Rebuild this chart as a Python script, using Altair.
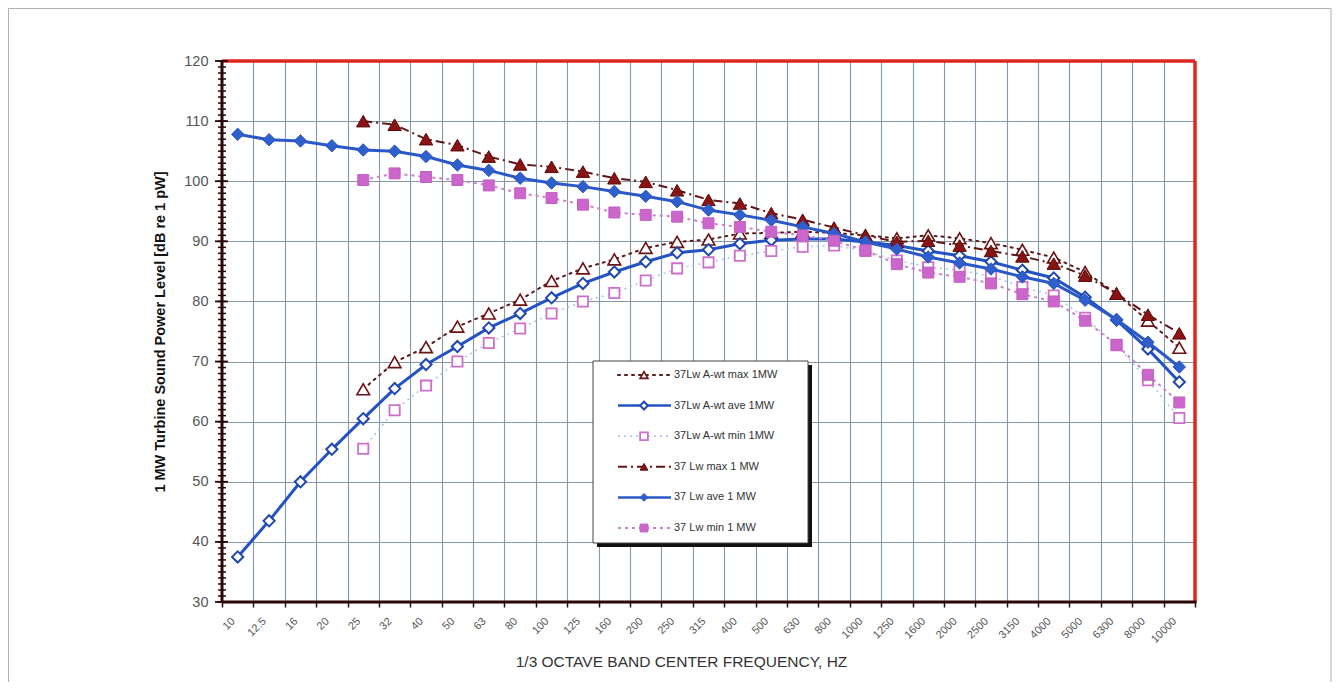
import altair as alt
import pandas as pd

categories = ["10", "12.5", "16", "20", "25", "32", "40", "50", "63", "80", "100",
              "125", "160", "200", "250", "315", "400", "500", "630", "800", "1000",
              "1250", "1600", "2000", "2500", "3150", "4000", "5000", "6300", "8000", "10000"]

awt_max = [None, None, None, None, 65.4, 69.9, 72.4, 75.8, 78.0, 80.3, 83.4,
           85.5, 87.0, 88.9, 89.9, 90.3, 91.3, 91.4, 91.6, 91.4, 91.0,
           90.5, 91.0, 90.5, 89.7, 88.6, 87.3, 84.9, 81.3, 76.8, 72.3]
awt_ave = [37.5, 43.5, 50.0, 55.4, 60.5, 65.5, 69.5, 72.5, 75.6, 78.0, 80.6,
           83.0, 84.9, 86.6, 88.1, 88.6, 89.6, 90.2, 90.4, 90.4, 89.9,
           89.3, 88.4, 87.6, 86.6, 85.2, 83.9, 80.7, 76.9, 72.1, 66.6]
awt_min = [None, None, None, None, 55.5, 61.9, 66.0, 70.0, 73.1, 75.5, 78.0,
           80.0, 81.4, 83.5, 85.5, 86.5, 87.6, 88.4, 89.1, 89.3, 88.4,
           86.8, 85.7, 85.2, 84.2, 82.4, 81.0, 77.3, 72.7, 66.9, 60.6]
lw_max = [None, None, None, None, 110.0, 109.4, 107.0, 106.0, 104.1, 102.8, 102.4,
          101.6, 100.5, 99.9, 98.5, 96.9, 96.3, 94.7, 93.6, 92.3, 91.0,
          89.9, 90.1, 89.3, 88.4, 87.5, 86.3, 84.3, 81.3, 77.8, 74.7]
lw_ave = [107.8, 106.9, 106.7, 105.9, 105.2, 105.0, 104.1, 102.7, 101.8, 100.5, 99.7,
          99.1, 98.3, 97.5, 96.6, 95.2, 94.4, 93.5, 92.4, 91.3, 89.9,
          88.7, 87.4, 86.4, 85.4, 84.1, 83.0, 80.2, 77.0, 73.2, 69.1]
lw_min = [None, None, None, None, 100.2, 101.3, 100.7, 100.2, 99.3, 98.0, 97.2,
          96.1, 94.8, 94.4, 94.1, 93.0, 92.4, 91.6, 91.0, 90.1, 88.5,
          86.2, 84.8, 84.1, 83.0, 81.2, 80.0, 76.8, 72.8, 67.8, 63.2]

series_names = ["37Lw A-wt max  1MW", "37Lw A-wt ave  1MW", "37Lw A-wt min  1MW",
                "37 Lw max 1 MW", "37 Lw ave 1 MW", "37 Lw min 1 MW"]

y_major = list(range(30, 121, 10))
y_minor = list(range(30, 121, 1))

W, H = 973, 541
FONT = "Liberation Sans"
DARK = "#2a0606"
GRID = "#8398a8"
RED = "#e0261e"

x_axis = alt.Axis(
    tickBand="extent", grid=True, gridColor=GRID, gridWidth=1.1,
    domain=False, ticks=True, tickSize=5, tickColor=DARK, tickWidth=1.5,
    labelAngle=-45, labelAlign="right", labelBaseline="top",
    labelFontSize=11, labelColor="#555555", labelPadding=8, labelOffset=-9,
    labelFont=FONT,
    title="1/3 OCTAVE BAND CENTER FREQUENCY, HZ", titleFont=FONT,
    titleFontSize=15.5, titleFontWeight="normal", titleColor="#333333",
    titleX=459, titleY=52, titleBaseline="top", titleAnchor="middle",
)
y_axis = alt.Axis(
    values=y_major, grid=True, gridColor=GRID, gridWidth=1.1,
    domain=False, ticks=False, labelFontSize=14.5, labelColor="#555555",
    labelPadding=14, labelFont=FONT,
    title="1 MW Turbine Sound Power Level [dB re 1 pW]", titleFont=FONT,
    titleFontSize=14.5, titleFontWeight="bold", titleColor="#111111",
    titleX=-62, titleBaseline="middle",
)
x_scale = alt.Scale(type="band", domain=categories, paddingInner=0, paddingOuter=0)
y_scale = alt.Scale(domain=[30, 120], nice=False, zero=False)


def X():
    return alt.X("freq:N", sort=categories, scale=x_scale, axis=x_axis, bandPosition=0.5)


def Y():
    return alt.Y("level:Q", scale=y_scale, axis=y_axis)


def frame(vals):
    return pd.DataFrame({"freq": categories, "level": vals}).dropna()


styles = [
    dict(vals=awt_max, line=dict(color="#5a1a1a", strokeWidth=2, strokeDash=[2, 5], strokeCap="round"),
         pt=dict(shape="triangle-up", fill="white", stroke="#6b1212", strokeWidth=1.6, size=160)),
    dict(vals=awt_ave, line=dict(color="#2453c4", strokeWidth=3),
         pt=dict(shape="diamond", fill="white", stroke="#1f47ad", strokeWidth=2, size=125)),
    dict(vals=awt_min, line=dict(color="#a9c2e6", strokeWidth=1.5, strokeDash=[2, 4]),
         pt=dict(shape="square", fill="white", stroke="#cc70cc", strokeWidth=1.8, size=105)),
    dict(vals=lw_max, line=dict(color="#5e1616", strokeWidth=2, strokeDash=[9, 4, 2, 4]),
         pt=dict(shape="triangle-up", fill="#8a1414", stroke="#5a0a0a", strokeWidth=1, size=180)),
    dict(vals=lw_ave, line=dict(color="#2a58c8", strokeWidth=3),
         pt=dict(shape="diamond", fill="#2f5fcc", stroke="#2a55c0", strokeWidth=1, size=155)),
    dict(vals=lw_min, line=dict(color="#cc7fd0", strokeWidth=2, strokeDash=[3, 4]),
         pt=dict(shape="square", fill="#cc66cc", stroke="#c060c0", strokeWidth=1, size=120)),
]

one = pd.DataFrame({"a": [0]})
layers = []

# base layer establishing axes
layers.append(alt.Chart(frame(lw_ave)).mark_point(opacity=0).encode(x=X(), y=Y()))

for st in styles:
    df = frame(st["vals"])
    layers.append(alt.Chart(df).mark_line(**st["line"]).encode(x=X(), y=Y()))
    layers.append(alt.Chart(df).mark_point(filled=True, opacity=1, **st["pt"]).encode(x=X(), y=Y()))

# plot border: red top/right, dark left/bottom with crossing ticks
layers.append(alt.Chart(one).mark_rule(color=RED, strokeWidth=3.5).encode(
    x=alt.value(0), x2=alt.value(W), y=alt.value(0)))
layers.append(alt.Chart(one).mark_rule(color=RED, strokeWidth=3.5).encode(
    x=alt.value(W), y=alt.value(0), y2=alt.value(H)))
layers.append(alt.Chart(one).mark_rule(color=DARK, strokeWidth=3).encode(
    x=alt.value(0), y=alt.value(0), y2=alt.value(H)))
layers.append(alt.Chart(one).mark_rule(color=DARK, strokeWidth=3).encode(
    x=alt.value(0), x2=alt.value(W + 1.5), y=alt.value(H)))
layers.append(alt.Chart(pd.DataFrame({"level": y_minor})).mark_rule(color=DARK, strokeWidth=1.5).encode(
    y=Y(), x=alt.value(-4), x2=alt.value(4)))
layers.append(alt.Chart(pd.DataFrame({"level": y_major})).mark_rule(color=DARK, strokeWidth=1.8).encode(
    y=Y(), x=alt.value(-7), x2=alt.value(6)))

# legend box
lx0, lx1, ly0, ly1 = 371, 586, 300, 482
layers.append(alt.Chart(one).mark_rect(fill="#111111").encode(
    x=alt.value(lx0 + 4), x2=alt.value(lx1 + 4), y=alt.value(ly0 + 4), y2=alt.value(ly1 + 4)))
layers.append(alt.Chart(one).mark_rect(fill="white", stroke="#444444", strokeWidth=1).encode(
    x=alt.value(lx0), x2=alt.value(lx1), y=alt.value(ly0), y2=alt.value(ly1)))

for i, (name, st) in enumerate(zip(series_names, styles)):
    ry = 314 + i * 30.6
    ln = dict(st["line"])
    ln["strokeWidth"] = min(ln["strokeWidth"], 2.5)
    layers.append(alt.Chart(one).mark_rule(**ln).encode(
        x=alt.value(396), x2=alt.value(449), y=alt.value(ry)))
    pt = dict(st["pt"])
    pt["size"] = 60
    layers.append(alt.Chart(one).mark_point(filled=True, opacity=1, **pt).encode(
        x=alt.value(422), y=alt.value(ry)))
    layers.append(alt.Chart(pd.DataFrame({"label": [name]})).mark_text(
        align="left", baseline="middle", font=FONT, fontSize=11, color="#333333").encode(
        x=alt.value(452), y=alt.value(ry), text="label:N"))

# outer figure frame
layers.append(alt.Chart(one).mark_rect(fillOpacity=0, stroke="#b0b0b0", strokeWidth=1).encode(
    x=alt.value(-213.5), x2=alt.value(1109), y=alt.value(-52.5), y2=alt.value(700)))

chart = alt.layer(*layers).properties(
    width=W, height=H,
    autosize=alt.AutoSizeParams(type="none"),
    padding={"left": 214, "top": 53, "right": 138, "bottom": 80},
    background="white",
).configure_view(stroke=None).configure(font=FONT)

chart.save("out.html", embed_options={"renderer": "svg", "actions": False})
